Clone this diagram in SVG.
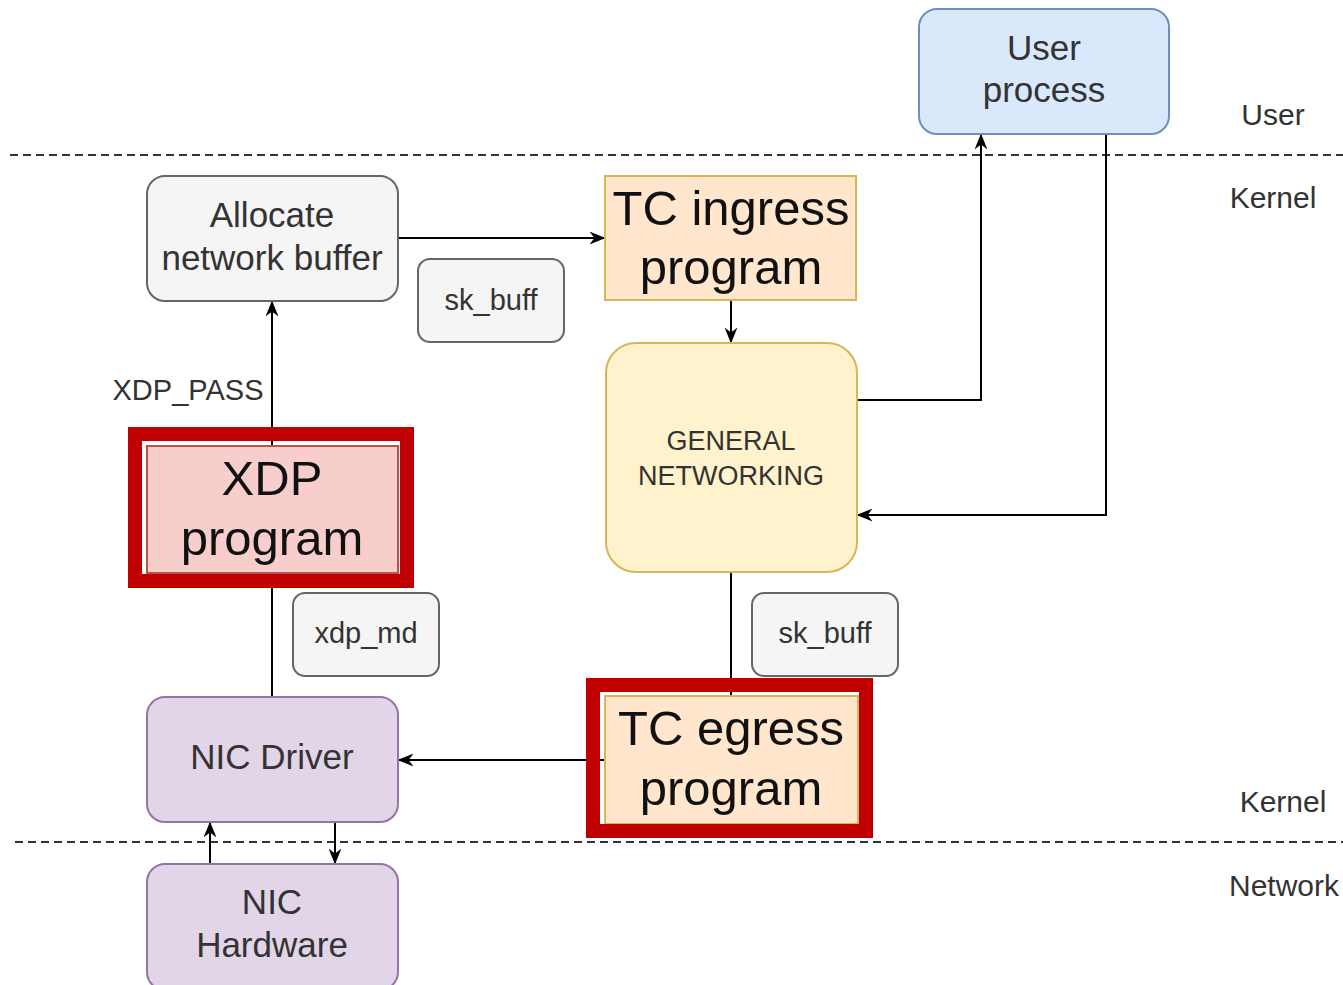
<svg xmlns="http://www.w3.org/2000/svg" width="1343" height="985" viewBox="0 0 1343 985">
  <style>
    text { font-family: "Liberation Sans", Arial, sans-serif; text-anchor: middle; }
    .t { fill: #333333; }
    .big { fill: #111111; font-size: 49px; }
    .node { font-size: 35px; }
    .lbl { font-size: 29px; }
    .zone { font-size: 30px; fill: #333333; }
    .gray { fill: #f5f5f5; stroke: #666666; stroke-width: 2; }
    .blue { fill: #dae8fc; stroke: #6c8ebf; stroke-width: 2; }
    .purple { fill: #e1d5e7; stroke: #9673a6; stroke-width: 2; }
    .orange { fill: #ffe6cc; stroke: #d6b656; stroke-width: 2; }
    .yellow { fill: #fff2cc; stroke: #d6b656; stroke-width: 2; }
    .pink { fill: #f8cecc; stroke: #b85450; stroke-width: 2; }
    .frame { fill: none; stroke: #c00000; stroke-width: 14; }
    .conn { fill: none; stroke: #000000; stroke-width: 2; }
    .sep { fill: none; stroke: #333333; stroke-width: 2; stroke-dasharray: 8 5; }
  </style>
  <defs>
    <marker id="arrow" viewBox="0 0 10 10" refX="9" refY="5" markerWidth="16" markerHeight="16" markerUnits="userSpaceOnUse" orient="auto">
      <path d="M0,1 L10,5 L0,9 L3,5 Z" fill="#000000"/>
    </marker>
  </defs>

  <!-- layer separators -->
  <g id="separators">
    <line class="sep" x1="10" y1="155" x2="1343" y2="155"/>
    <line class="sep" x1="15" y1="842" x2="1343" y2="842"/>
  </g>

  <!-- layer labels -->
  <g id="zone-labels">
    <text class="zone" x="1273" y="125">User</text>
    <text class="zone" x="1273" y="208">Kernel</text>
    <text class="zone" x="1283" y="812">Kernel</text>
    <text class="zone" x="1284" y="896">Network</text>
  </g>

  <!-- connectors -->
  <g id="connectors">
    <path class="conn" d="M398,238 H604" marker-end="url(#arrow)"/>
    <path class="conn" d="M731,300 V342" marker-end="url(#arrow)"/>
    <path class="conn" d="M272,446 V302" marker-end="url(#arrow)"/>
    <path class="conn" d="M272,697 V573"/>
    <path class="conn" d="M731,572 V696"/>
    <path class="conn" d="M605,760 H399" marker-end="url(#arrow)"/>
    <path class="conn" d="M857,400 H981 V135" marker-end="url(#arrow)"/>
    <path class="conn" d="M1106,134 V515 H858" marker-end="url(#arrow)"/>
    <path class="conn" d="M210,864 V823" marker-end="url(#arrow)"/>
    <path class="conn" d="M335,822 V863" marker-end="url(#arrow)"/>
    <text class="t lbl" x="188" y="400">XDP_PASS</text>
  </g>

  <g id="user-process">
    <rect class="blue" x="919" y="9" width="250" height="125" rx="18"/>
    <text class="t node" x="1044" y="60">User</text>
    <text class="t node" x="1044" y="102">process</text>
  </g>

  <g id="allocate-buffer">
    <rect class="gray" x="147" y="176" width="251" height="125" rx="18"/>
    <text class="t node" x="272" y="227">Allocate</text>
    <text class="t node" x="272" y="270">network buffer</text>
  </g>

  <g id="sk-buff-ingress">
    <rect class="gray" x="418" y="259" width="146" height="83" rx="12"/>
    <text class="t lbl" x="491" y="310">sk_buff</text>
  </g>

  <g id="tc-ingress">
    <rect class="orange" x="605" y="176" width="251" height="124"/>
    <text class="big" x="731" y="225">TC ingress</text>
    <text class="big" x="731" y="284">program</text>
  </g>

  <g id="general-networking">
    <rect class="yellow" x="606" y="343" width="251" height="229" rx="30"/>
    <text class="t" style="font-size:27px" x="731" y="450">GENERAL</text>
    <text class="t" style="font-size:27px" x="731" y="485">NETWORKING</text>
  </g>

  <g id="xdp-program">
    <rect class="pink" x="147" y="446" width="251" height="127"/>
    <rect class="frame" x="135" y="434" width="272" height="147"/>
    <text class="big" x="272" y="495">XDP</text>
    <text class="big" x="272" y="555">program</text>
  </g>

  <g id="xdp-md">
    <rect class="gray" x="293" y="593" width="146" height="83" rx="12"/>
    <text class="t lbl" x="366" y="643">xdp_md</text>
  </g>

  <g id="sk-buff-egress">
    <rect class="gray" x="752" y="593" width="146" height="83" rx="12"/>
    <text class="t lbl" x="825" y="643">sk_buff</text>
  </g>

  <g id="tc-egress">
    <rect class="orange" x="605" y="696" width="253" height="128"/>
    <rect class="frame" x="593" y="685" width="273" height="146"/>
    <text class="big" x="731" y="745">TC egress</text>
    <text class="big" x="731" y="805">program</text>
  </g>

  <g id="nic-driver">
    <rect class="purple" x="147" y="697" width="251" height="125" rx="18"/>
    <text class="t node" x="272" y="769">NIC Driver</text>
  </g>

  <g id="nic-hardware">
    <rect class="purple" x="147" y="864" width="251" height="126" rx="18"/>
    <text class="t node" x="272" y="914">NIC</text>
    <text class="t node" x="272" y="957">Hardware</text>
  </g>
</svg>
